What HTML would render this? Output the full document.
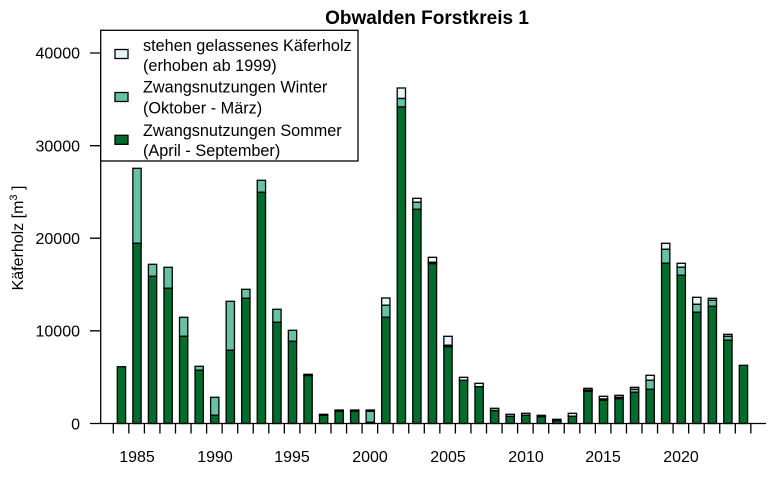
<!DOCTYPE html>
<html><head><meta charset="utf-8"><style>body{margin:0;background:#fff}svg{display:block;font-family:"Liberation Sans",Arial,sans-serif}.h{fill:#e5f5f9}.w{fill:#66c2a4}.g{fill:#006d2c}</style></head>
<body>
<svg width="768" height="484" viewBox="0 0 768 484" xmlns="http://www.w3.org/2000/svg">
<rect width="768" height="484" fill="#fff"/>
<text x="427" y="24" font-size="19" font-weight="bold" text-anchor="middle">Obwalden Forstkreis 1</text>
<g stroke="#000" stroke-width="1.3">
<rect class="g" x="117.3" y="366.7" width="8.3" height="56.8"/>
<rect class="w" x="132.85" y="168.3" width="8.3" height="75"/><rect class="g" x="132.85" y="243.3" width="8.3" height="180.2"/>
<rect class="w" x="148.4" y="264.3" width="8.3" height="12"/><rect class="g" x="148.4" y="276.3" width="8.3" height="147.2"/>
<rect class="w" x="163.95" y="267.3" width="8.3" height="21"/><rect class="g" x="163.95" y="288.3" width="8.3" height="135.2"/>
<rect class="w" x="179.5" y="317.3" width="8.3" height="19"/><rect class="g" x="179.5" y="336.3" width="8.3" height="87.2"/>
<rect class="w" x="195.05" y="366.3" width="8.3" height="4"/><rect class="g" x="195.05" y="370.3" width="8.3" height="53.2"/>
<rect class="w" x="210.6" y="397.3" width="8.3" height="18"/><rect class="g" x="210.6" y="415.3" width="8.3" height="8.2"/>
<rect class="w" x="226.15" y="301.3" width="8.3" height="49"/><rect class="g" x="226.15" y="350.3" width="8.3" height="73.2"/>
<rect class="w" x="241.7" y="289.3" width="8.3" height="9"/><rect class="g" x="241.7" y="298.3" width="8.3" height="125.2"/>
<rect class="w" x="257.25" y="180.3" width="8.3" height="12"/><rect class="g" x="257.25" y="192.3" width="8.3" height="231.2"/>
<rect class="w" x="272.8" y="309.3" width="8.3" height="13"/><rect class="g" x="272.8" y="322.3" width="8.3" height="101.2"/>
<rect class="w" x="288.35" y="330.3" width="8.3" height="11"/><rect class="g" x="288.35" y="341.3" width="8.3" height="82.2"/>
<rect class="w" x="303.9" y="374.3" width="8.3" height="1.3"/><rect class="g" x="303.9" y="375.6" width="8.3" height="47.9"/>
<rect class="w" x="319.45" y="414.3" width="8.3" height="1"/><rect class="g" x="319.45" y="415.3" width="8.3" height="8.2"/>
<rect class="w" x="335" y="410" width="8.3" height="1.3"/><rect class="g" x="335" y="411.3" width="8.3" height="12.2"/>
<rect class="w" x="350.55" y="410" width="8.3" height="1.3"/><rect class="g" x="350.55" y="411.3" width="8.3" height="12.2"/>
<rect class="h" x="366.1" y="410" width="8.3" height="1.3"/><rect class="w" x="366.1" y="411.3" width="8.3" height="11"/><rect class="g" x="366.1" y="422.3" width="8.3" height="1.2"/>
<rect class="h" x="381.65" y="298" width="8.3" height="7.3"/><rect class="w" x="381.65" y="305.3" width="8.3" height="12"/><rect class="g" x="381.65" y="317.3" width="8.3" height="106.2"/>
<rect class="h" x="397.2" y="88" width="8.3" height="10.5"/><rect class="w" x="397.2" y="98.5" width="8.3" height="8.5"/><rect class="g" x="397.2" y="107" width="8.3" height="316.5"/>
<rect class="h" x="412.75" y="198.3" width="8.3" height="4"/><rect class="w" x="412.75" y="202.3" width="8.3" height="7"/><rect class="g" x="412.75" y="209.3" width="8.3" height="214.2"/>
<rect class="h" x="428.3" y="257.3" width="8.3" height="5"/><rect class="w" x="428.3" y="262.3" width="8.3" height="1.4"/><rect class="g" x="428.3" y="263.7" width="8.3" height="159.8"/>
<rect class="h" x="443.85" y="336.3" width="8.3" height="9"/><rect class="w" x="443.85" y="345.3" width="8.3" height="1.4"/><rect class="g" x="443.85" y="346.7" width="8.3" height="76.8"/>
<rect class="h" x="459.4" y="377.3" width="8.3" height="3"/><rect class="g" x="459.4" y="380.3" width="8.3" height="43.2"/>
<rect class="h" x="474.95" y="383.3" width="8.3" height="3.4"/><rect class="g" x="474.95" y="386.7" width="8.3" height="36.8"/>
<rect class="w" x="490.5" y="408.3" width="8.3" height="2.4"/><rect class="g" x="490.5" y="410.7" width="8.3" height="12.8"/>
<rect class="h" x="506.05" y="414.3" width="8.3" height="2"/><rect class="g" x="506.05" y="416.3" width="8.3" height="7.2"/>
<rect class="h" x="521.6" y="413.3" width="8.3" height="2"/><rect class="g" x="521.6" y="415.3" width="8.3" height="8.2"/>
<rect class="w" x="537.15" y="415.3" width="8.3" height="1.4"/><rect class="g" x="537.15" y="416.7" width="8.3" height="6.8"/>
<rect class="w" x="552.7" y="419.3" width="8.3" height="1.4"/><rect class="g" x="552.7" y="420.7" width="8.3" height="2.8"/>
<rect class="h" x="568.25" y="413.3" width="8.3" height="3"/><rect class="g" x="568.25" y="416.3" width="8.3" height="7.2"/>
<rect class="h" x="583.8" y="388.3" width="8.3" height="1.7"/><rect class="w" x="583.8" y="390" width="8.3" height="1.3"/><rect class="g" x="583.8" y="391.3" width="8.3" height="32.2"/>
<rect class="h" x="599.35" y="396.3" width="8.3" height="2.7"/><rect class="w" x="599.35" y="399" width="8.3" height="1.3"/><rect class="g" x="599.35" y="400.3" width="8.3" height="23.2"/>
<rect class="h" x="614.9" y="395.3" width="8.3" height="2"/><rect class="w" x="614.9" y="397.3" width="8.3" height="1.4"/><rect class="g" x="614.9" y="398.7" width="8.3" height="24.8"/>
<rect class="h" x="630.45" y="387.3" width="8.3" height="2"/><rect class="w" x="630.45" y="389.3" width="8.3" height="3"/><rect class="g" x="630.45" y="392.3" width="8.3" height="31.2"/>
<rect class="h" x="646" y="375.3" width="8.3" height="5"/><rect class="w" x="646" y="380.3" width="8.3" height="9"/><rect class="g" x="646" y="389.3" width="8.3" height="34.2"/>
<rect class="h" x="661.55" y="243.3" width="8.3" height="6"/><rect class="w" x="661.55" y="249.3" width="8.3" height="14"/><rect class="g" x="661.55" y="263.3" width="8.3" height="160.2"/>
<rect class="h" x="677.1" y="263.3" width="8.3" height="4"/><rect class="w" x="677.1" y="267.3" width="8.3" height="8"/><rect class="g" x="677.1" y="275.3" width="8.3" height="148.2"/>
<rect class="h" x="692.65" y="297.3" width="8.3" height="7"/><rect class="w" x="692.65" y="304.3" width="8.3" height="8"/><rect class="g" x="692.65" y="312.3" width="8.3" height="111.2"/>
<rect class="h" x="708.2" y="298.3" width="8.3" height="2"/><rect class="w" x="708.2" y="300.3" width="8.3" height="6"/><rect class="g" x="708.2" y="306.3" width="8.3" height="117.2"/>
<rect class="h" x="723.75" y="334.3" width="8.3" height="2"/><rect class="w" x="723.75" y="336.3" width="8.3" height="4"/><rect class="g" x="723.75" y="340.3" width="8.3" height="83.2"/>
<rect class="g" x="739.3" y="365.3" width="8.3" height="58.2"/>
</g>
<g stroke="#000" stroke-width="1.3" fill="none">
<line x1="100.7" y1="53" x2="100.7" y2="423.5"/>
<path d="M90 423.5H100.7M90 330.8H100.7M90 238.2H100.7M90 145.7H100.7M90 53H100.7"/>
<line x1="100" y1="423.5" x2="766" y2="423.5"/>
<path d="M113.3 423.5v10M128.85 423.5v10M144.4 423.5v10M159.95 423.5v10M175.5 423.5v10M191.05 423.5v10M206.6 423.5v10M222.15 423.5v10M237.7 423.5v10M253.25 423.5v10M268.8 423.5v10M284.35 423.5v10M299.9 423.5v10M315.45 423.5v10M331 423.5v10M346.55 423.5v10M362.1 423.5v10M377.65 423.5v10M393.2 423.5v10M408.75 423.5v10M424.3 423.5v10M439.85 423.5v10M455.4 423.5v10M470.95 423.5v10M486.5 423.5v10M502.05 423.5v10M517.6 423.5v10M533.15 423.5v10M548.7 423.5v10M564.25 423.5v10M579.8 423.5v10M595.35 423.5v10M610.9 423.5v10M626.45 423.5v10M642 423.5v10M657.55 423.5v10M673.1 423.5v10M688.65 423.5v10M704.2 423.5v10M719.75 423.5v10M735.3 423.5v10M750.85 423.5v10"/>
</g>
<g font-size="16" text-anchor="end">
<text x="80" y="429.5">0</text>
<text x="80" y="336.5">10000</text>
<text x="80" y="244">20000</text>
<text x="80" y="151.5">30000</text>
<text x="80" y="58.5">40000</text>
</g>
<text transform="translate(23,238) rotate(-90)" font-size="16" text-anchor="middle">Käferholz [m<tspan font-size="11" dy="-6">3</tspan><tspan dy="6"> ]</tspan></text>
<g font-size="16" text-anchor="middle">
<text x="137" y="462">1985</text><text x="215" y="462">1990</text><text x="292" y="462">1995</text><text x="370" y="462">2000</text><text x="448" y="462">2005</text><text x="526" y="462">2010</text><text x="603" y="462">2015</text><text x="681" y="462">2020</text>
</g>
<rect x="100.7" y="30.3" width="257.3" height="130.7" fill="#fff" stroke="#000" stroke-width="1.3"/>
<g stroke="#000" stroke-width="1.3">
<rect class="h" x="115" y="49.5" width="13" height="9"/>
<rect class="w" x="115" y="92.5" width="13" height="9"/>
<rect class="g" x="115" y="135.3" width="13" height="9"/>
</g>
<g font-size="16.25">
<text x="143" y="51">stehen gelassenes Käferholz</text>
<text x="143" y="71">(erhoben ab 1999)</text>
<text x="143" y="92.5">Zwangsnutzungen Winter</text>
<text x="143" y="113.5">(Oktober - März)</text>
<text x="143" y="136">Zwangsnutzungen Sommer</text>
<text x="143" y="156">(April - September)</text>
</g>
</svg>
</body></html>
